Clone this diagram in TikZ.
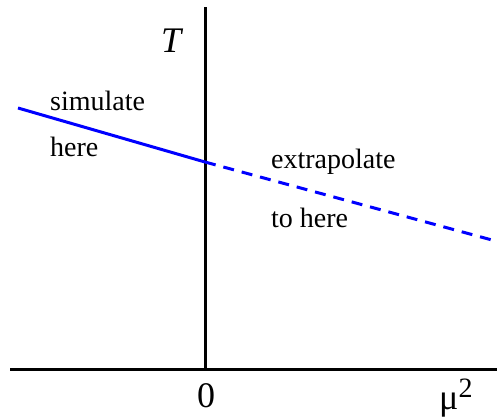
\documentclass[tikz,border=0pt]{standalone}
\usepackage{fontspec}
\setmainfont{Liberation Serif}
\usepackage{tikz}
\usetikzlibrary{positioning}
\tikzset{
  axisline/.style = {line width=3pt, draw=black},
  fitline/.style = {line width=3pt, draw=blue},
  extline/.style = {fitline, dash pattern=on 11pt off 8pt},
  plotlabel/.style = {anchor=base west, inner sep=0pt, font=\fontsize{28}{34}\selectfont},
  axislabel/.style = {plotlabel, font=\fontsize{36}{42}\selectfont}
}
\begin{document}
\begin{tikzpicture}[x=1pt, y=-1pt]
\useasboundingbox (0,0) rectangle (497,416);
% axes
\coordinate (xleft)  at (10,369);
\coordinate (xright) at (497,369);
\coordinate (ytop)   at (205,7);
\coordinate (ybot)   at (205,369);
\draw[axisline] (xleft) -- (xright);
\draw[axisline] (ytop) -- (ybot);
% transition line
\coordinate (start) at (18,108);
\coordinate (cross) at (205,162);
\coordinate (stop)  at (492,240);
\draw[fitline] (start) -- (cross);
\draw[extline] (cross) -- (stop);
% labels
\node[axislabel] (tlab)   at (161,52)  {\textit{T}};
\node[plotlabel] (sim)    at (50,110)  {simulate};
\node[plotlabel] (simh)   at (50,156)  {here};
\node[plotlabel] (extra)  at (271,168) {extrapolate};
\node[plotlabel] (extrah) at (271,227) {to here};
\node[axislabel] (zero)   at (197,407) {0};
\node[axislabel] (mulab)  at (439,409) {μ\raisebox{12pt}{\fontsize{28}{34}\selectfont 2}};
\end{tikzpicture}
\end{document}
